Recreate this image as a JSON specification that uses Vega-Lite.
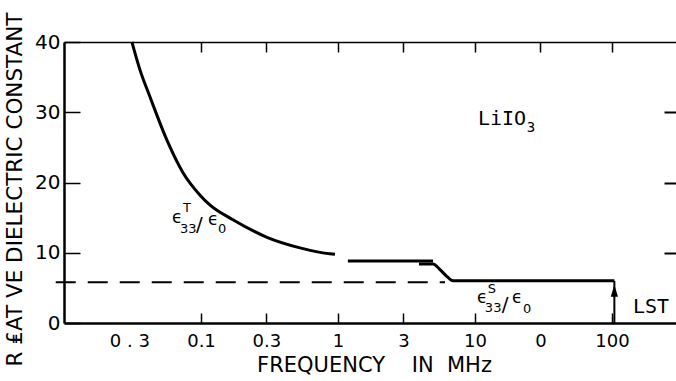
{
  "$schema": "https://vega.github.io/schema/vega-lite/v6.json",
  "width": 612,
  "height": 281,
  "autosize": {"type": "none"},
  "padding": {"left": 64, "top": 42, "right": 0, "bottom": 58},
  "background": "white",
  "config": {
    "view": {"stroke": null},
    "axis": {"grid": false, "domainColor": "black", "tickColor": "black", "labelColor": "black", "titleColor": "black", "titleFontWeight": "normal", "labelFont": "DejaVu Sans", "titleFont": "DejaVu Sans"}
  },
  "datasets": {
    "lines": [
      {"s": "T", "f": 0.0313, "v": 40},
      {"s": "T", "f": 0.0359, "v": 36.0},
      {"s": "T", "f": 0.0424, "v": 32.2},
      {"s": "T", "f": 0.0565, "v": 26.0},
      {"s": "T", "f": 0.0739, "v": 21.4},
      {"s": "T", "f": 0.0984, "v": 18.2},
      {"s": "T", "f": 0.116, "v": 16.8},
      {"s": "T", "f": 0.171, "v": 14.7},
      {"s": "T", "f": 0.303, "v": 12.2},
      {"s": "T", "f": 0.528, "v": 10.7},
      {"s": "T", "f": 0.875, "v": 9.85},
      {"s": "T", "f": 0.95, "v": 9.8},
      {"s": "T2", "f": 1.18, "v": 8.83},
      {"s": "T2", "f": 4.94, "v": 8.83},
      {"s": "S", "f": 3.9, "v": 8.4},
      {"s": "S", "f": 4.94, "v": 8.4},
      {"s": "S", "f": 5.55, "v": 7.6},
      {"s": "S", "f": 6.25, "v": 6.6},
      {"s": "S", "f": 6.91, "v": 6.0},
      {"s": "S", "f": 104, "v": 6.0}
    ],
    "dashed": [
      {"s": "D", "f": 0.0087, "v": 5.8},
      {"s": "D", "f": 6.04, "v": 5.8}
    ],
    "ann": [
      {"role": "main", "t": "ϵ", "f": 0.0614, "v": 14.23},
      {"role": "sup", "t": "T", "f": 0.0739, "v": 15.8},
      {"role": "sub", "t": "33", "f": 0.0703, "v": 12.81},
      {"role": "slash", "t": "/", "f": 0.0919, "v": 13.1},
      {"role": "main", "t": "ϵ", "f": 0.1125, "v": 13.95},
      {"role": "sub", "t": "0", "f": 0.133, "v": 12.81},
      {"role": "main", "t": "ϵ", "f": 10.35, "v": 2.85},
      {"role": "sup", "t": "S", "f": 12.4, "v": 4.27},
      {"role": "sub", "t": "33", "f": 11.8, "v": 1.57},
      {"role": "slash", "t": "/", "f": 15.7, "v": 1.71},
      {"role": "main", "t": "ϵ", "f": 18.6, "v": 2.85},
      {"role": "sub", "t": "0", "f": 22.4, "v": 1.42},
      {"role": "mono", "t": "LiIO", "f": 10.5, "v": 28.2},
      {"role": "monosub", "t": "3", "f": 23.9, "v": 27.2},
      {"role": "mono", "t": "LST", "f": 142, "v": 1.42}
    ],
    "arrow": [
      {"f": 104, "v0": 0, "v1": 6.0, "head": 4.6}
    ]
  },
  "layer": [
    {
      "data": {"name": "lines"},
      "mark": {"type": "line", "color": "black", "strokeWidth": 3, "interpolate": "monotone"},
      "encoding": {
        "x": {
          "field": "f", "type": "quantitative",
          "scale": {"type": "log", "domain": [0.01, 293], "nice": false},
          "axis": {
            "orient": "bottom",
            "values": [0.03, 0.1, 0.3, 1, 3, 10, 30, 100],
            "labelExpr": "datum.value < 0.05 ? '0 . 3' : datum.value < 0.2 ? '0.1' : datum.value < 0.5 ? '0.3' : datum.value < 2 ? '1' : datum.value < 5 ? '3' : datum.value < 20 ? '10' : datum.value < 50 ? '0' : '100'",
            "tickSize": -10,
            "tickWidth": 1.5,
            "tickOpacity": {"condition": {"test": "datum.value < 0.05 || (datum.value > 20 && datum.value < 50)", "value": 0}, "value": 1},
            "domainWidth": 2.5,
            "labelFontSize": 18,
            "labelBaseline": "alphabetic",
            "labelPadding": 33,
            "labelFlush": false,
            "labelOverlap": false,
            "title": "FREQUENCY\u00a0\u00a0\u00a0\u00a0IN\u00a0\u00a0MHz",
            "titleFontSize": 21,
            "titleX": 310,
            "titleY": 48,
            "titleBaseline": "alphabetic",
            "titleAlign": "center",
            "titleAnchor": null
          }
        },
        "y": {
          "field": "v", "type": "quantitative",
          "scale": {"domain": [0, 40], "nice": false},
          "axis": {
            "orient": "left",
            "values": [0, 10, 20, 30, 40],
            "tickSize": -16,
            "tickWidth": 1.5,
            "labelPadding": 20,
            "domainWidth": 2.5,
            "labelFontSize": 20,
            "labelFlush": false,
            "labelOverlap": false,
            "labelBaseline": "middle",
            "title": "R ₤AT VE DIELECTRIC CONSTANT",
            "titleFontSize": 21.5,
            "titleAngle": -90,
            "titleX": -43,
            "titleY": 147,
            "titleBaseline": "alphabetic",
            "titleAlign": "center",
            "titleAnchor": null
          }
        },
        "detail": {"field": "s"}
      }
    },
    {
      "data": {"name": "dashed"},
      "mark": {"type": "line", "color": "black", "strokeWidth": 2, "strokeDash": [20, 12]},
      "encoding": {
        "x": {"field": "f", "type": "quantitative",
          "axis": {"orient": "top", "values": [0.1, 0.3, 1, 3, 10, 30, 100], "tickSize": -10, "tickWidth": 1.5, "labels": false, "domainWidth": 1.5, "title": null}},
        "y": {"field": "v", "type": "quantitative",
          "axis": {"orient": "right", "values": [10, 20, 30], "tickSize": -12, "tickWidth": 2, "labels": false, "domain": false, "title": null}}
      }
    },
    {
      "data": {"name": "arrow"},
      "mark": {"type": "rule", "color": "black", "strokeWidth": 2},
      "encoding": {
        "x": {"field": "f", "type": "quantitative", "axis": null},
        "y": {"field": "v0", "type": "quantitative", "axis": null},
        "y2": {"field": "v1"}
      }
    },
    {
      "data": {"name": "arrow"},
      "mark": {"type": "point", "filled": true, "color": "black", "opacity": 1, "shape": "M-0.6,1L0,-1L0.6,1Z", "size": 144},
      "encoding": {
        "x": {"field": "f", "type": "quantitative", "axis": null},
        "y": {"field": "head", "type": "quantitative", "axis": null}
      }
    },
    {
      "data": {"name": "ann"},
      "transform": [{"filter": "datum.role == 'main'"}],
      "mark": {"type": "text", "font": "DejaVu Sans", "fontSize": 17, "align": "left", "baseline": "alphabetic", "color": "black"},
      "encoding": {
        "x": {"field": "f", "type": "quantitative", "axis": null},
        "y": {"field": "v", "type": "quantitative", "axis": null},
        "text": {"field": "t"}
      }
    },
    {
      "data": {"name": "ann"},
      "transform": [{"filter": "datum.role == 'sup' || datum.role == 'sub'"}],
      "mark": {"type": "text", "font": "DejaVu Sans", "fontSize": 13, "align": "left", "baseline": "alphabetic", "color": "black"},
      "encoding": {
        "x": {"field": "f", "type": "quantitative", "axis": null},
        "y": {"field": "v", "type": "quantitative", "axis": null},
        "text": {"field": "t"}
      }
    },
    {
      "data": {"name": "ann"},
      "transform": [{"filter": "datum.role == 'slash'"}],
      "mark": {"type": "text", "font": "DejaVu Sans", "fontSize": 20, "align": "left", "baseline": "alphabetic", "color": "black"},
      "encoding": {
        "x": {"field": "f", "type": "quantitative", "axis": null},
        "y": {"field": "v", "type": "quantitative", "axis": null},
        "text": {"field": "t"}
      }
    },
    {
      "data": {"name": "ann"},
      "transform": [{"filter": "datum.role == 'mono'"}],
      "mark": {"type": "text", "font": "DejaVu Sans Mono", "fontSize": 20, "align": "left", "baseline": "alphabetic", "color": "black"},
      "encoding": {
        "x": {"field": "f", "type": "quantitative", "axis": null},
        "y": {"field": "v", "type": "quantitative", "axis": null},
        "text": {"field": "t"}
      }
    },
    {
      "data": {"name": "ann"},
      "transform": [{"filter": "datum.role == 'monosub'"}],
      "mark": {"type": "text", "font": "DejaVu Sans Mono", "fontSize": 14, "align": "left", "baseline": "alphabetic", "color": "black"},
      "encoding": {
        "x": {"field": "f", "type": "quantitative", "axis": null},
        "y": {"field": "v", "type": "quantitative", "axis": null},
        "text": {"field": "t"}
      }
    }
  ]
}
